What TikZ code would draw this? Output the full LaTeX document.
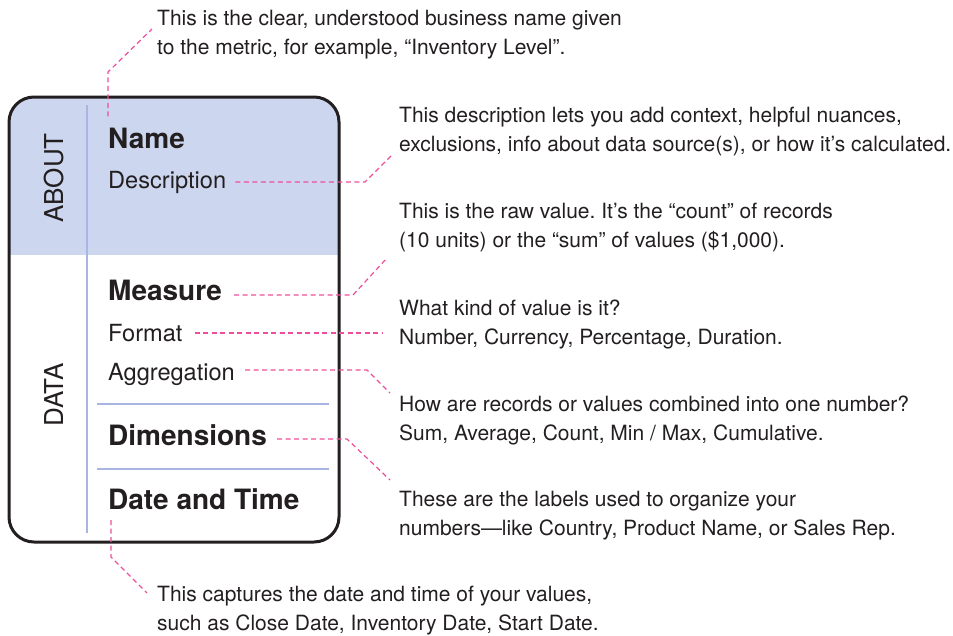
\documentclass[tikz,border=0pt]{standalone}
\usepackage{fontspec}
\setmainfont{TeX Gyre Heros}
\usepackage{xcolor}
\usetikzlibrary{positioning,calc}
\definecolor{aboutblue}{HTML}{CCD6EE}
\definecolor{ruleblue}{HTML}{A9B5E2}
\definecolor{leaderpink}{HTML}{EE4E9B}
\definecolor{ink}{HTML}{231F20}
\frenchspacing

\begin{document}
\begin{tikzpicture}[x=1pt, y=-1pt,
    lbl/.style={inner sep=0, anchor=base west, text=ink, font=\fontsize{23.6}{28}\selectfont},
    head/.style={lbl, font=\fontsize{28}{32}\selectfont\bfseries},
    side/.style={inner sep=0, anchor=base, rotate=90, text=ink, font=\fontsize{26}{30}\selectfont},
    note/.style={inner sep=0, anchor=base west, align=left, text=ink, font=\fontsize{21}{29.5}\selectfont},
    leader/.style={leaderpink, line width=1.2pt, dash pattern=on 5pt off 3.5pt}]
    \useasboundingbox (0,0) rectangle (953,635);

    % Metric card
    \begin{scope}
        \clip [rounded corners=25] (9,97) rectangle (339,542);
        \fill [aboutblue] (9,97) rectangle (339,255);
    \end{scope}
    \draw [ink, line width=3pt, rounded corners=25] (9,97) rectangle (339,542);
    \draw [ruleblue, line width=1.5pt] (87,105) -- (87,533);
    \foreach \y in {404, 469} {
        \draw [ruleblue, line width=1.5pt] (97,\y) -- (329,\y);
    }

    % Section titles
    \node [side] (about) at (63,178) {ABOUT};
    \node [side] (data) at (63,395) {DATA};

    % Fields
    \node [head] (name) at (108,148) {Name};
    \node [lbl] (desc) at (108,188) {Description};
    \node [head] (measure) at (108,300) {Measure};
    \node [lbl] (format) at (108,341) {Format};
    \node [lbl] (aggr) at (108,380) {Aggregation};
    \node [head] (dims) at (108,445) {Dimensions};
    \node [head] (datetime) at (108,509) {Date and Time};

    % Notes (anchored on the baseline of their last line)
    \node [note] (namenote) at (157,54.5) {This is the clear, understood business name given\\to the metric, for example, “Inventory Level”.};
    \node [note] (descnote) at (399,151.5) {This description lets you add context, helpful nuances,\\exclusions, info about data source(s), or how it’s calculated.};
    \node [note] (measnote) at (399,247.5) {This is the raw value. It’s the “count” of records\\(10 units) or the “sum” of values (\$1,000).};
    \node [note] (fmtnote) at (399,344.5) {What kind of value is it?\\Number, Currency, Percentage, Duration.};
    \node [note] (aggrnote) at (399,440.5) {How are records or values combined into one number?\\Sum, Average, Count, Min / Max, Cumulative.};
    \node [note] (dimsnote) at (399,535.5) {These are the labels used to organize your\\numbers—like Country, Product Name, or Sales Rep.};
    \node [note] (datenote) at (157,630.5) {This captures the date and time of your values,\\such as Close Date, Inventory Date, Start Date.};

    % Leaders
    \coordinate (namebend) at (108,72);   \coordinate (nameend) at (152,29);
    \coordinate (descbend) at (365,182);  \coordinate (descend) at (392,155);
    \coordinate (measbend) at (353,295);  \coordinate (measend) at (387,258);
    \coordinate (fmtend) at (382,333);
    \coordinate (aggrbend) at (367,370);  \coordinate (aggrend) at (390,393);
    \coordinate (dimsbend) at (347,439);  \coordinate (dimsend) at (390,480);
    \coordinate (datebend) at (111,557);  \coordinate (dateend) at (147,593);

    \draw [leader] ([shift={(0,-11)}]name.north west) -- (namebend) -- (nameend);
    \draw [leader] ([shift={(9,-6)}]desc.base east) -- (descbend) -- (descend);
    \draw [leader] ([shift={(12,-5)}]measure.base east) -- (measbend) -- (measend);
    \draw [leader] ([shift={(12,-8)}]format.base east) -- (fmtend);
    \draw [leader] ([shift={(10,-10)}]aggr.base east) -- (aggrbend) -- (aggrend);
    \draw [leader] ([shift={(10,-6)}]dims.base east) -- (dimsbend) -- (dimsend);
    \draw [leader] ([shift={(3,11)}]datetime.base west) -- (datebend) -- (dateend);
\end{tikzpicture}
\end{document}
